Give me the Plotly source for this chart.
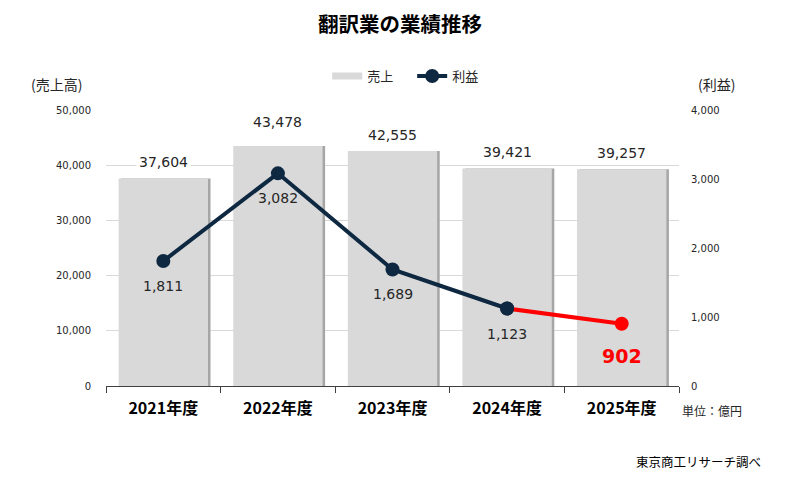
import plotly.graph_objects as go

years = ["2021年度", "2022年度", "2023年度", "2024年度", "2025年度"]
sales = [37604, 43478, 42555, 39421, 39257]
profit = [1811, 3082, 1689, 1123, 902]

jp_font = "Noto Sans CJK JP"
num_font = "DejaVu Sans"
navy = "#0e2841"
red = "#ff0000"
bar_color = "#d9d9d9"
bar_w = 0.78

fig = go.Figure()

# 棒の影
fig.add_trace(go.Bar(
    x=years, y=sales, showlegend=False, hoverinfo="skip",
    marker_color="#a6a6a6", marker_line_width=0,
    width=bar_w, offset=-bar_w / 2 + 0.022,
))

# 売上 (棒)
fig.add_trace(go.Bar(
    x=years, y=sales, name="売上", showlegend=False,
    marker_color=bar_color, marker_line_width=0,
    width=bar_w, offset=-bar_w / 2,
))

# 凡例用 (横長の四角に見せる)
fig.add_trace(go.Scatter(
    x=[None], y=[None], name="売上", mode="lines",
    line=dict(color=bar_color, width=7),
))

# 利益 (実績部分)
fig.add_trace(go.Scatter(
    x=years[:4], y=profit[:4], name="利益",
    mode="lines+markers",
    line=dict(color=navy, width=4),
    marker=dict(color=navy, size=14),
    yaxis="y2",
))

# 利益 (2025年度・赤)
fig.add_trace(go.Scatter(
    x=years[3:], y=profit[3:], name="利益",
    mode="lines+markers",
    line=dict(color=red, width=4),
    marker=dict(color=[navy, red], size=14),
    yaxis="y2", showlegend=False,
))

annotations = []
for i, (yr, s) in enumerate(zip(years, sales)):
    annotations.append(dict(
        x=yr, y=s, xref="x", yref="y", text=f"{s:,}",
        showarrow=False, yshift=24 if i == 1 else 16,
        bgcolor="white", borderpad=2,
        font=dict(family=num_font, size=14, color="#262626"),
    ))
for i, (yr, p) in enumerate(zip(years, profit)):
    last = i == len(profit) - 1
    annotations.append(dict(
        x=yr, y=p, xref="x", yref="y2", text=f"<b>{p:,}</b>" if last else f"{p:,}",
        showarrow=False, yshift=-32 if last else -25,
        font=dict(family=num_font, size=19 if last else 14, color=red if last else "#262626"),
    ))

annotations += [
    dict(x=0.513, y=1.315, xref="paper", yref="paper", text="<b>翻訳業の業績推移</b>",
         showarrow=False, xanchor="center", yanchor="middle",
         font=dict(family=jp_font, size=20.5, color="#000000")),
    dict(x=-0.086, y=1.094, xref="paper", yref="paper", text="(売上高)",
         showarrow=False, xanchor="center", yanchor="middle",
         font=dict(family=jp_font, size=14, color="#262626")),
    dict(x=1.065, y=1.094, xref="paper", yref="paper", text="(利益)",
         showarrow=False, xanchor="center", yanchor="middle",
         font=dict(family=jp_font, size=14, color="#262626")),
    dict(x=1.002, y=-0.087, xref="paper", yref="paper", text="単位：億円",
         showarrow=False, xanchor="left", yanchor="middle",
         font=dict(family=jp_font, size=12, color="#262626")),
    dict(x=1.147, y=-0.275, xref="paper", yref="paper", text="東京商工リサーチ調べ",
         showarrow=False, xanchor="right", yanchor="middle",
         font=dict(family=jp_font, size=12.5, color="#000000")),
]

# ページ余白 (8px) を差し引いたサイズ
fig.update_layout(
    width=777, height=476,
    margin=dict(l=98, r=106, t=102, b=98),
    paper_bgcolor="white", plot_bgcolor="white",
    barmode="overlay",
    showlegend=True,
    legend=dict(orientation="h", x=0.386, xanchor="left", y=1.123, yanchor="middle",
                itemwidth=30, entrywidth=40,
                font=dict(family=jp_font, size=13, color="#262626")),
    xaxis=dict(
        tickfont=dict(family=jp_font, size=16, color="#000000"),
        tickprefix="<b>", ticksuffix="</b>",
        showline=True, linecolor="#404040", linewidth=1,
        ticks="outside", tickson="boundaries", ticklen=6, tickcolor="#404040",
        ticklabelstandoff=8,
    ),
    yaxis=dict(
        range=[0, 50000], dtick=10000, tickformat=",",
        showgrid=True, gridcolor="#d9d9d9", zeroline=False,
        tickfont=dict(family=num_font, size=10, color="#262626"),
        ticklabelstandoff=14,
    ),
    yaxis2=dict(
        range=[0, 4000], dtick=1000, tickformat=",",
        overlaying="y", side="right", showgrid=False, zeroline=False,
        tickfont=dict(family=num_font, size=10, color="#262626"),
        ticklabelstandoff=11,
    ),
    annotations=annotations,
)

fig.write_html("out.html")
